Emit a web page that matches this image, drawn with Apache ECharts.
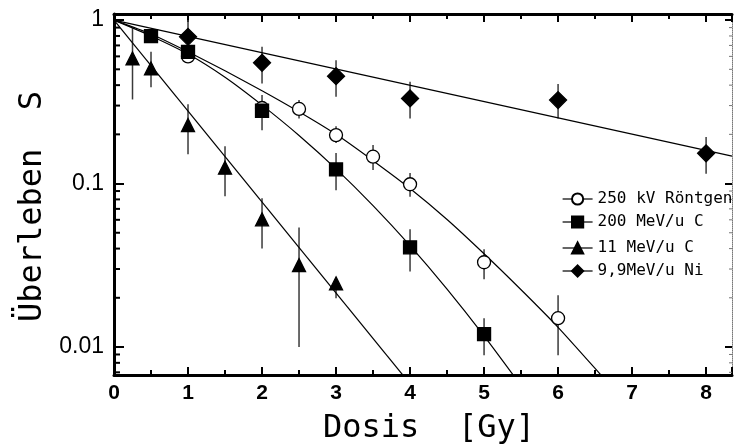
<!DOCTYPE html>
<html>
<head>
<meta charset="utf-8">
<script src="https://cdn.jsdelivr.net/npm/echarts@6/dist/echarts.min.js"></script>
<style>
  html, body { margin: 0; padding: 0; background: #fff; }
  #chart { width: 735px; height: 444px; }
</style>
</head>
<body>
<div id="chart"></div>
<script>
// axis ranges
var xMin = 0, xMax = 8.35;
var yMin = 0.00674, yMax = 1.09;
var yTickLabels = ['0.01', '0.1', '1'];
var yMinorTicks = [0.007, 0.008, 0.009, 0.02, 0.03, 0.04, 0.05, 0.06, 0.07, 0.08, 0.09,
    0.2, 0.3, 0.4, 0.5, 0.6, 0.7, 0.8, 0.9];

// 250 kV Roentgen
var doseRoentgen = [1, 2, 2.5, 3, 3.5, 4, 5, 6];
var survRoentgen = [0.60, 0.29, 0.286, 0.198, 0.146, 0.099, 0.033, 0.015];
var loRoentgen = [0.60, 0.29, 0.25, 0.177, 0.121, 0.0831, 0.026, 0.0089];
var hiRoentgen = [0.60, 0.29, 0.324, 0.224, 0.172, 0.116, 0.0396, 0.0207];

// 200 MeV/u C
var doseC200 = [0.5, 1, 2, 3, 4, 5];
var survC200 = [0.798, 0.64, 0.279, 0.122, 0.0407, 0.012];
var loC200 = [0.798, 0.64, 0.212, 0.0911, 0.029, 0.0089];
var hiC200 = [0.798, 0.64, 0.348, 0.154, 0.0525, 0.015];

// 11 MeV/u C
var doseC11 = [0.25, 0.5, 1, 1.5, 2, 2.5, 3];
var survC11 = [0.583, 0.506, 0.228, 0.125, 0.0604, 0.0317, 0.0245];
var loC11 = [0.327, 0.388, 0.151, 0.0836, 0.0401, 0.01, 0.0199];
var hiC11 = [0.893, 0.64, 0.306, 0.169, 0.0812, 0.0539, 0.0263];

// 9,9 MeV/u Ni
var doseNi = [1, 2, 3, 4, 6, 8];
var survNi = [0.79, 0.548, 0.454, 0.332, 0.324, 0.153];
var loNi = [0.66, 0.41, 0.34, 0.25, 0.25, 0.115];
var hiNi = [1.0, 0.687, 0.569, 0.42, 0.406, 0.193];

// fitted curves
var fitDoseRoentgen = [0, 0.5, 1, 1.5, 2, 2.5, 3, 3.5, 4, 4.5, 5, 5.5, 6, 6.5, 7];
var fitRoentgen = [1, 0.822, 0.64, 0.49, 0.37, 0.275, 0.2, 0.138, 0.0933, 0.0603, 0.0372, 0.0224, 0.0132, 0.0074, 0.0041];
var fitDoseC200 = [0, 0.5, 1, 1.5, 2, 2.5, 3, 3.5, 4, 4.5, 5, 5.5];
var fitC200 = [1, 0.8, 0.62, 0.447, 0.302, 0.197, 0.123, 0.0733, 0.0417, 0.0226, 0.0117, 0.0058];
var fitDoseC11 = [0, 4.2];
var fitC11 = [1, 0.0046];
var fitDoseNi = [0, 8.35];
var fitNi = [1, 0.147];

var names = ['250 kV Röntgen', '200 MeV/u C', '11 MeV/u C', '9,9MeV/u Ni'];
var legendTops = [186, 209, 235, 258];

function pairs(xs, ys) {
    return xs.map(function(x, i) { return [x, ys[i]]; });
}

function triples(xs, lo, hi) {
    return xs.map(function(x, i) { return [x, lo[i], hi[i]]; });
}

function renderErrorBar(params, api) {
    var top = api.coord([api.value(0), api.value(2)]);
    var bot = api.coord([api.value(0), api.value(1)]);
    return {
        type: 'line',
        shape: { x1: top[0], y1: top[1], x2: bot[0], y2: bot[1] },
        style: { stroke: '#3a3a3a', lineWidth: 1.5 }
    };
}

// minor log ticks: left axis solid, right axis small grey marks
function renderMinorTick(params, api) {
    var l = api.coord([xMin, api.value(1)]);
    var r = api.coord([xMax, api.value(1)]);
    return {
        type: 'group',
        children: [
            { type: 'line', shape: { x1: l[0], y1: l[1], x2: l[0] + 6, y2: l[1] }, style: { stroke: '#000', lineWidth: 2 } },
            { type: 'line', shape: { x1: r[0] - 3, y1: r[1], x2: r[0], y2: r[1] }, style: { stroke: '#777', lineWidth: 1 } }
        ]
    };
}

function errSeries(data) {
    return {
        type: 'custom',
        renderItem: renderErrorBar,
        data: data,
        encode: { x: 0, y: [1, 2] },
        z: 2,
        silent: true
    };
}

function fitSeries(data) {
    return {
        type: 'line',
        data: data,
        showSymbol: false,
        smooth: 0.2,
        lineStyle: { color: '#000', width: 1.2 },
        z: 3,
        silent: true
    };
}

function pointSeries(name, data, symbol, size, fill) {
    return {
        name: name,
        type: 'line',
        data: data,
        symbol: symbol,
        symbolSize: size,
        showSymbol: true,
        lineStyle: { opacity: 0 },
        itemStyle: { color: fill, borderColor: '#000', borderWidth: 1.3, opacity: 1 },
        z: 4
    };
}

var myChart = echarts.init(document.getElementById('chart'));

var axisLineStyle = { color: '#000', width: 3 };

var option = {
    animation: false,
    backgroundColor: '#fff',
    grid: { left: 114, right: 3, top: 14, bottom: 69, outerBoundsMode: 'none' },
    legend: names.map(function(n, i) {
        return {
            data: [n],
            left: 557,
            top: legendTops[i],
            itemWidth: 30,
            itemHeight: 14,
            selectedMode: false,
            lineStyle: { color: '#000', width: 1.2, opacity: 1 },
            textStyle: { fontFamily: 'DejaVu Sans Mono', fontSize: 16, color: '#000' }
        };
    }),
    xAxis: [{
        type: 'value',
        min: xMin,
        max: xMax,
        interval: 1,
        position: 'bottom',
        name: 'Dosis  [Gy]',
        nameLocation: 'middle',
        nameGap: 38,
        nameTextStyle: { fontFamily: 'DejaVu Sans Mono', fontSize: 32, color: '#000', padding: [0, 0, 0, 12] },
        axisLine: { onZero: false, lineStyle: axisLineStyle },
        axisTick: { inside: true, length: 8, lineStyle: { color: '#000', width: 2 } },
        minorTick: { show: true, splitNumber: 2, length: 5, lineStyle: { color: '#000', width: 2 } },
        splitLine: { show: false },
        axisLabel: {
            margin: 8,
            showMaxLabel: false,
            fontFamily: 'Liberation Sans',
            fontWeight: 'bold',
            fontSize: 21,
            color: '#000',
            formatter: function(v) { return Math.abs(v - Math.round(v)) < 1e-6 ? String(Math.round(v)) : ''; }
        }
    }, {
        type: 'value',
        min: xMin,
        max: xMax,
        interval: 1,
        position: 'top',
        axisLine: { onZero: false, lineStyle: axisLineStyle },
        axisTick: { inside: true, length: 8, lineStyle: { color: '#000', width: 2 } },
        minorTick: { show: true, splitNumber: 2, length: 5, lineStyle: { color: '#000', width: 2 } },
        splitLine: { show: false },
        axisLabel: { show: false }
    }],
    yAxis: [{
        type: 'log',
        min: yMin,
        max: yMax,
        position: 'left',
        name: 'Überleben  S',
        nameLocation: 'middle',
        nameRotate: 90,
        nameGap: 57,
        nameTextStyle: { fontFamily: 'DejaVu Sans Mono', fontSize: 32, color: '#000', padding: [0, 24, 0, 0] },
        axisLine: { onZero: false, lineStyle: axisLineStyle },
        axisTick: { inside: true, length: 10, lineStyle: { color: '#000', width: 2 } },
        splitLine: { show: false },
        axisLabel: {
            margin: 10,
            showMinLabel: false,
            showMaxLabel: false,
            fontFamily: 'Liberation Sans',
            fontSize: 23,
            color: '#000',
            formatter: function(v) {
                for (var i = 0; i < yTickLabels.length; i++) {
                    if (Math.abs(v / parseFloat(yTickLabels[i]) - 1) < 1e-3) return yTickLabels[i];
                }
                return '';
            }
        }
    }, {
        type: 'log',
        min: yMin,
        max: yMax,
        position: 'right',
        axisLine: { onZero: false, lineStyle: { color: '#777', width: 1, type: 'dotted' } },
        axisTick: { inside: true, length: 7, lineStyle: { color: '#000', width: 2 } },
        splitLine: { show: false },
        axisLabel: { show: false }
    }],
    series: [
        {
            type: 'custom',
            renderItem: renderMinorTick,
            data: yMinorTicks.map(function(v) { return [xMin, v]; }),
            encode: { x: 0, y: 1 },
            silent: true,
            z: 1
        },
        errSeries(triples(doseRoentgen, loRoentgen, hiRoentgen)),
        errSeries(triples(doseC200, loC200, hiC200)),
        errSeries(triples(doseC11, loC11, hiC11)),
        errSeries(triples(doseNi, loNi, hiNi)),
        fitSeries(pairs(fitDoseRoentgen, fitRoentgen)),
        fitSeries(pairs(fitDoseC200, fitC200)),
        fitSeries(pairs(fitDoseC11, fitC11)),
        fitSeries(pairs(fitDoseNi, fitNi)),
        pointSeries(names[0], pairs(doseRoentgen, survRoentgen), 'circle', 13, '#fff'),
        pointSeries(names[1], pairs(doseC200, survC200), 'rect', 13, '#000'),
        pointSeries(names[2], pairs(doseC11, survC11), 'triangle', 13, '#000'),
        pointSeries(names[3], pairs(doseNi, survNi), 'diamond', 17, '#000')
    ]
};

myChart.setOption(option);
</script>
</body>
</html>
